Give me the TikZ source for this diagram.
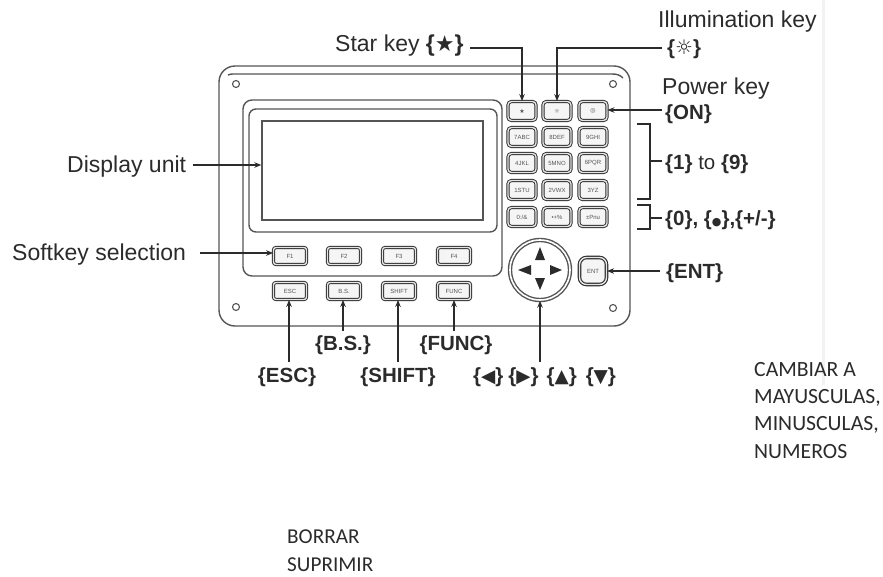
\documentclass[tikz,border=0pt]{standalone}
\usepackage{fontspec}
\setmainfont{Liberation Sans}
\newfontfamily\symf{DejaVu Sans}
\newfontfamily\notef{Carlito}
\usetikzlibrary{arrows.meta}
\definecolor{ink}{HTML}{2B2B2B}
\definecolor{body}{HTML}{555555}
\tikzset{
 x=1pt,y=-1pt,
 lbl/.style={inner sep=0pt,text=ink,font=\fontsize{23}{26}\selectfont},
 blbl/.style={inner sep=0pt,text=ink,font=\fontsize{20.5}{24}\selectfont\bfseries},
 note/.style={inner sep=0pt,text=ink,anchor=west,font=\fontsize{21.2}{24}\selectfont\notef},
 notewide/.style={note,font=\fontsize{21.7}{24}\selectfont\notef},
 keybase/.style={draw=ink,line width=.9pt,double=black!10,double distance=1.4pt,rounded corners=3.5pt,fill=black!4,inner sep=0pt,text=body,font=\fontsize{6}{6}\selectfont},
 numkey/.style={keybase,minimum width=28pt,minimum height=19pt},
 softkey/.style={keybase,rounded corners=2.5pt,minimum width=33pt,minimum height=17pt},
 conn/.style={draw=ink,line width=1.1pt},
 arr/.style={conn,-{Stealth[length=7pt,width=5.5pt]}},
 bodyline/.style={draw=body,line width=1.4pt},
 screw/.style={circle,draw=body,line width=1.1pt,minimum size=7pt,inner sep=0pt},
 dtri/.style={fill=ink,draw=none},
}
\newcommand{\symsz}[2]{{\symf\fontsize{#1}{#1}\selectfont #2}}
\begin{document}
\begin{tikzpicture}
\useasboundingbox (0,0) rectangle (883,576);
\fill[black!5] (822,0) rectangle (825,385);
% body
\draw[bodyline,rounded corners=16pt] (219,66) rectangle (630,326);
\draw[bodyline] (228,75) .. controls (230,74) and (231,74) .. (236,74) -- (612,74) .. controls (617,74) and (620,75) .. (623,78);
\node[screw] (s1) at (236,84) {};
\node[screw] (s2) at (613,84) {};
\node[screw] (s3) at (236,307) {};
\node[screw] (s4) at (613,308) {};
% panel
\draw[bodyline,rounded corners=9pt] (243,100) rectangle (502,276);
\draw[bodyline,rounded corners=7pt] (249,109) rectangle (497,232);
\node[draw=body,line width=1.4pt,inner sep=0pt,minimum width=221pt,minimum height=99pt] (disp) at (372.5,170.5) {};
% soft keys
\node[softkey] (f1) at (290,256) {F1};
\node[softkey] (f2) at (344,256) {F2};
\node[softkey] (f3) at (399,256) {F3};
\node[softkey] (f4) at (454,256) {F4};
\node[softkey] (esc) at (290,291) {ESC};
\node[softkey] (bs) at (344,291) {B.S.};
\node[softkey] (shift) at (399,291) {SHIFT};
\node[softkey] (func) at (454,291) {FUNC};
% keypad
\node[numkey] (kstar) at (522,111) {\symf ★};
\node[numkey] (kill) at (557,111) {\symf ☼};
\node[numkey] (kon) at (593,111) {\symf ◎};
\node[numkey] (k7) at (522,137) {7ABC};
\node[numkey] (k8) at (557,137) {8DEF};
\node[numkey] (k9) at (593,137) {9GHI};
\node[numkey] (k4) at (522,163) {4JKL};
\node[numkey] (k5) at (557,163) {5MNO};
\node[numkey] (k6) at (593,163) {6PQR};
\node[numkey] (k1) at (522,190) {1STU};
\node[numkey] (k2) at (557,190) {2VWX};
\node[numkey] (k3) at (593,190) {3YZ};
\node[numkey] (k0) at (522,217) {0:/\&};
\node[numkey] (kdot) at (557,217) {\textbullet+\%};
\node[numkey] (kpm) at (593,217) {±Pnu};
% d-pad
\node[circle,draw=body,line width=1.4pt,double=white,double distance=1.6pt,minimum size=60pt,inner sep=0pt] (dpad) at (540,270) {};
\fill[dtri] (540,247) -- (545,260) -- (535,260) -- cycle;
\fill[dtri] (540,290) -- (545,278) -- (535,278) -- cycle;
\fill[dtri] (518,270) -- (531,265) -- (531,275) -- cycle;
\fill[dtri] (562,270) -- (550,265) -- (550,275) -- cycle;
\node[keybase,rounded corners=7pt,minimum width=27pt,minimum height=27pt,line width=1.1pt] (ent) at (593,271) {ENT};
% labels
\node[lbl,anchor=west] (lstar) at (335,46) {Star key {\bfseries\{}\symsz{22}{★}{\bfseries\}}};
\node[lbl,anchor=west] (lill) at (658,22) {Illumination key};
\node[blbl,anchor=west] (lillk) at (667,49) {\{\symsz{20}{☼}\}};
\node[lbl,anchor=west] (lpow) at (662,89) {Power key};
\node[blbl,anchor=west] (lon) at (665,114) {\{ON\}};
\node[blbl,anchor=west] (l19) at (665,164) {\{1\} {\mdseries to} \{9\}};
\node[blbl,anchor=west] (l0) at (665,220) {\{0\}, \{\symsz{11}{●}\},\{+/-\}};
\node[lbl,anchor=west] (ldisp) at (67,167) {Display unit};
\node[lbl,anchor=west] (lsoft) at (12,255) {Softkey selection};
\node[blbl,anchor=west] (lent) at (666,273) {\{ENT\}};
\node[blbl] (lesc) at (287,377) {\{ESC\}};
\node[blbl] (lbs) at (343,345) {\{B.S.\}};
\node[blbl] (lshift) at (398,377) {\{SHIFT\}};
\node[blbl] (lfunc) at (456,345) {\{FUNC\}};
\node[blbl,anchor=west] (larr) at (473,377) {\{\symsz{18.5}{◀}\}\hspace{5pt}\{\symsz{18.5}{▶}\}\hspace{8pt}\{\symsz{18.5}{▲}\}\hspace{9pt}\{\symsz{18.5}{▼}\}};
\node[notewide] (n1) at (754,370) {CAMBIAR A};
\node[notewide] (n2) at (754,398) {MAYUSCULAS,};
\node[notewide] (n3) at (754,425) {MINUSCULAS,};
\node[notewide] (n4) at (754,452) {NUMEROS};
\node[note] (n5) at (287,537) {BORRAR};
\node[note] (n6) at (287,565) {SUPRIMIR};
% free connector ends
\coordinate (cstar) at (470,48);
\coordinate (cill) at (662,48);
\coordinate (con) at (662,110);
\coordinate (cdisp) at (193,165);
\coordinate (csoft) at (200,253);
\coordinate (cent) at (660,271);
\coordinate (cesc) at (289,362);
\coordinate (cbs) at (343,331);
\coordinate (cshift) at (398,362);
\coordinate (cfunc) at (454,331);
\coordinate (cpad) at (540,362);
% connectors
\draw[arr] (cstar) -| (kstar.north);
\draw[arr] (cill) -| (kill.north);
\draw[arr] (con) -- (con -| kon.east);
\draw[arr] (cdisp) -- (cdisp -| disp.west);
\draw[arr] (csoft) -- (csoft -| f1.west);
\draw[arr] (cent) -- (cent -| ent.east);
\draw[arr] (cesc) -- (cesc |- esc.south);
\draw[arr] (cbs) -- (cbs |- bs.south);
\draw[arr] (cshift) -- (cshift |- shift.south);
\draw[arr] (cfunc) -- (cfunc |- func.south);
\draw[arr] (cpad) -- (dpad.south);
\coordinate (b1a) at (637,124);
\coordinate (b1b) at (650,124);
\coordinate (b1c) at (650,199);
\coordinate (b1d) at (637,199);
\coordinate (b1m) at (650,161);
\coordinate (b1e) at (662,161);
\coordinate (b2a) at (637,205);
\coordinate (b2b) at (650,205);
\coordinate (b2c) at (650,229);
\coordinate (b2d) at (637,229);
\coordinate (b2m) at (650,218);
\coordinate (b2e) at (662,218);
\draw[conn] (b1a) -- (b1b) -- (b1c) -- (b1d);
\draw[conn] (b1m) -- (b1e);
\draw[conn] (b2a) -- (b2b) -- (b2c) -- (b2d);
\draw[conn] (b2m) -- (b2e);
\end{tikzpicture}
\end{document}
